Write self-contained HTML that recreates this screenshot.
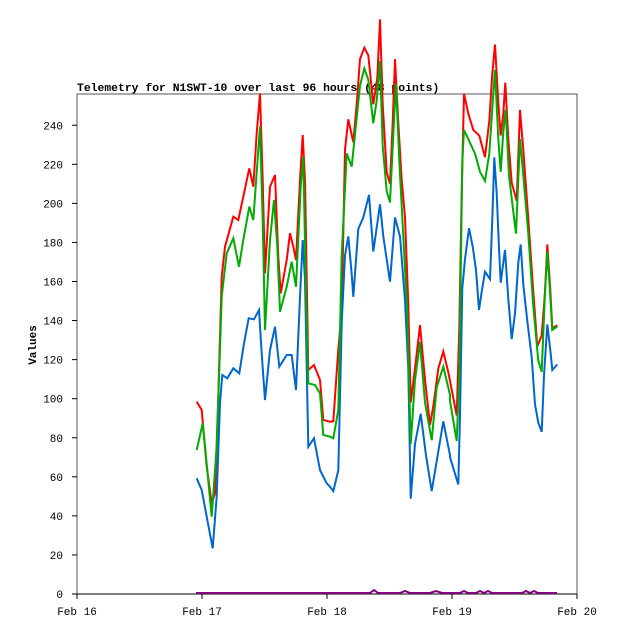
<!DOCTYPE html>
<html><head><meta charset="utf-8"><style>
html,body{margin:0;padding:0;background:#fff;width:618px;height:635px;overflow:hidden}
svg text{font-family:"Liberation Mono",monospace;font-size:11px;fill:#000}
</style></head><body>
<svg id="s" width="618" height="635" xmlns="http://www.w3.org/2000/svg">
<rect x="0" y="0" width="618" height="635" fill="#fff"/>
<text x="77" y="91" style="font-weight:bold;font-size:11.4px">Telemetry for N1SWT-10 over last 96 hours (48 points)</text>
<rect x="77" y="94" width="500" height="500" fill="none" stroke="#555" stroke-width="1"/>
<g id="ax"></g>
<text transform="translate(36,345) rotate(-90)" text-anchor="middle" style="font-weight:bold">Values</text>
<g id="lines" fill="none" stroke-width="2" stroke-linejoin="miter"></g>
</svg>
<script>
var NS="http://www.w3.org/2000/svg";
function el(p,t,a,txt){var e=document.createElementNS(NS,t);for(var k in a)e.setAttribute(k,a[k]);if(txt!=null)e.textContent=txt;p.appendChild(e);return e;}
var ax=document.getElementById('ax');
for(var v=0;v<=240;v+=20){var y=594-v*500/256;
 el(ax,'line',{x1:72,y1:y,x2:77,y2:y,stroke:'#000'});
 el(ax,'text',{x:63,y:y+4,'text-anchor':'end'},String(v));}
var days=['Feb 16','Feb 17','Feb 18','Feb 19','Feb 20'];
for(var i=0;i<5;i++){var x=77+125*i;
 el(ax,'line',{x1:x,y1:594,x2:x,y2:599,stroke:'#000'});
 el(ax,'text',{x:x,y:615,'text-anchor':'middle'},days[i]);}
el(ax,'line',{x1:77,y1:594,x2:577,y2:594,stroke:'#000'});
function Z(o,pts){var r=[];for(var i=0;i<pts.length;i+=2)r.push([o[0]+pts[i]/3,o[1]+pts[i+1]/o[2]]);return r;}
var z1=[190,80,3],z2=[320,10,2.65],z3=[450,30,2.75];
var red=[].concat(
Z(z1,[20,965,35,990,50,1160,65,1270,75,1240,85,950,95,590,105,500,130,410,145,420,160,350,178,265,190,320,200,160,210,40,218,300,225,580,240,320,255,285,265,530,272,640,290,540,300,460,310,500,318,540,330,300,338,165,345,300,355,870,372,855,390,900,400,1020,420,1025]),
Z(z2,[40,1090,55,900,65,800,75,370,85,290,100,350,110,250,120,130,133,100,145,120,160,250,172,180,180,25,188,250,200,430,210,460,218,300,225,130,235,300,245,450,255,550,265,780,272,1040,285,950,300,835,315,980,330,1100,340,1050,355,950,370,905,385,960]),
Z(z3,[0,965,20,1060,28,820,35,450,42,175,55,230,70,275,88,290,105,350,118,250,127,120,135,40,145,200,152,290,160,230,166,145,175,300,185,420,200,470,210,220,220,330,235,520,250,720,262,870,275,840,285,720,292,590,300,700,307,820,322,812]));
var green=[].concat(
Z(z1,[20,1110,38,1030,48,1130,65,1310,80,1100,95,650,110,520,130,475,147,560,160,480,178,380,190,420,205,210,210,140,218,420,225,750,240,480,252,360,262,500,270,695,290,620,305,545,318,620,332,320,340,230,348,640,355,910,375,915,390,940,400,1065,420,1070]),
Z(z2,[40,1135,55,1060,65,650,80,380,95,415,105,330,120,200,133,155,145,185,160,300,170,240,180,135,188,360,200,480,210,510,220,330,228,195,238,400,250,600,262,800,272,1150,285,980,300,880,315,1040,335,1140,350,1000,370,945,390,1020]),
Z(z3,[0,1020,20,1130,28,950,37,360,42,275,55,300,75,340,90,390,105,415,118,340,128,200,135,110,145,300,152,390,160,280,167,220,177,400,190,500,198,560,210,300,220,400,235,560,250,760,265,910,275,940,285,720,292,610,300,720,307,825,322,815]));
var blue=[].concat(
Z(z1,[20,1195,35,1230,50,1310,68,1405,80,1250,90,970,97,885,112,895,130,865,148,880,162,790,176,715,192,718,207,690,215,820,225,960,240,810,255,740,268,860,290,825,305,825,318,930,330,650,338,480,345,600,355,1100,372,1075,390,1170,410,1210,420,1220]),
Z(z2,[40,1275,55,1220,65,830,75,650,85,600,95,700,100,760,115,580,130,550,147,490,160,640,180,515,190,600,210,720,225,550,240,600,255,770,265,950,272,1295,285,1150,302,1070,318,1180,335,1275,355,1170,370,1090,390,1180]),
Z(z3,[0,1175,25,1250,30,1060,37,710,45,630,57,545,68,595,78,660,87,770,95,720,105,665,120,685,127,520,133,350,140,450,147,600,152,695,165,605,175,740,185,850,195,780,205,640,212,590,220,700,232,800,245,900,255,1030,265,1080,275,1105,282,950,292,810,302,890,307,935,322,920]));
var purple=[[196,593],[370,593],[374,590],[378,593],[400,593],[405,591],[410,593],[430,593],[436,591],[442,593],[460,593],[464,591],[468,593],[476,593],[480,591],[484,593],[488,591],[492,593],[522,593],[526,591],[530,593],[534,591],[538,593],[557,593]];
var g=document.getElementById('lines');
function pl(p,c){el(g,'polyline',{points:p.map(function(q){return q[0].toFixed(1)+','+q[1].toFixed(1)}).join(' '),stroke:c});}
pl(red,'#ff0000');pl(blue,'#0066cc');pl(green,'#00aa00');pl(purple,'#800080');
</script>
</body></html>
